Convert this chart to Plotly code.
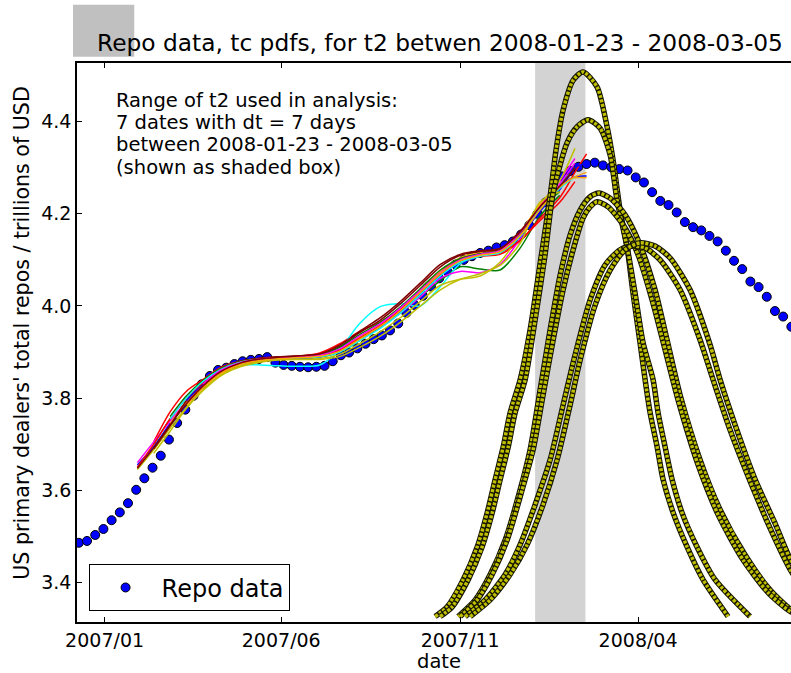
import pandas as pd
import plotly.graph_objects as go

BASE = pd.Timestamp("2007-01-01")

# ---- Repo data (weekly), trillions of USD ----
repo_start = "2006-12-10"
repo_values = [
    3.486, 3.490, 3.503, 3.516, 3.535, 3.552, 3.572, 3.601, 3.626, 3.649,
    3.675, 3.710, 3.746, 3.775, 3.805, 3.830, 3.848, 3.861, 3.866, 3.874,
    3.880, 3.883, 3.885, 3.889, 3.877, 3.872, 3.870, 3.868, 3.867, 3.868,
    3.870, 3.880, 3.893, 3.899, 3.908, 3.918, 3.928, 3.936, 3.947, 3.962,
    3.985, 4.002, 4.022, 4.042, 4.060, 4.075, 4.090, 4.100, 4.108, 4.115,
    4.120, 4.127, 4.132, 4.140, 4.155, 4.175, 4.200, 4.225, 4.255, 4.281,
    4.293, 4.302, 4.308, 4.311, 4.305, 4.301, 4.297, 4.294, 4.279, 4.268,
    4.247, 4.228, 4.219, 4.203, 4.182, 4.171, 4.164, 4.152, 4.140, 4.120,
    4.098, 4.080, 4.053, 4.041, 4.020, 3.989, 3.977, 3.955,
]
repo_dates = pd.date_range(repo_start, periods=len(repo_values), freq="7D")

# ---- Fit curves: values on a common grid (days after 2007-01-01) ----
fit_days = [28, 42, 56, 70, 84, 99, 116, 133, 150, 167, 184, 201, 218,
            236, 253, 270, 287, 304, 321, 338, 355, 372, 389, 402, 412]
N = None
fit_lines = [
    [3.655, 3.695, 3.745, 3.790, 3.828, 3.858, 3.876, 3.884, 3.887, 3.889, 3.892, 3.905, 3.930, 3.958, 3.990, 4.030, 4.070, 4.100, 4.112, 4.118, 4.155, 4.215, 4.260, 4.280, 4.282],
    [N, 3.700, 3.755, 3.800, 3.835, 3.862, 3.878, 3.884, 3.885, 3.886, 3.889, 3.900, 3.925, 3.955, 3.985, 4.020, 4.055, 4.085, 4.080, 4.078, 4.125, 4.195, 4.240, N, N],
    [N, 3.705, 3.770, 3.815, 3.840, 3.866, 3.880, 3.886, 3.888, 3.891, 3.898, 3.918, 3.945, 3.966, 3.995, 4.035, 4.075, 4.100, 4.108, 4.112, 4.140, 4.190, 4.235, 4.290, 4.330],
    [N, N, N, N, N, 3.862, 3.872, 3.872, 3.870, 3.869, 3.872, 3.905, 3.962, 3.999, 4.005, 4.000, 4.042, 4.092, 4.110, 4.115, 4.150, 4.210, 4.262, 4.300, N],
    [3.660, 3.705, 3.750, 3.792, 3.826, 3.856, 3.874, 3.882, 3.886, 3.888, 3.890, 3.902, 3.928, 3.955, 3.985, 4.020, 4.060, 4.075, 4.072, 4.090, 4.145, 4.215, 4.272, 4.320, N],
    [3.645, 3.688, 3.735, 3.780, 3.818, 3.850, 3.870, 3.880, 3.884, 3.885, 3.886, 3.895, 3.918, 3.945, 3.975, 4.010, 4.045, 4.058, 4.065, 4.095, 4.155, 4.220, 4.272, 4.342, N],
    [N, N, 3.745, 3.790, 3.825, 3.855, 3.874, 3.883, 3.887, 3.890, 3.893, 3.905, 3.932, 3.960, 3.995, 4.035, 4.075, 4.105, 4.116, 4.122, 4.160, 4.220, 4.262, 4.278, 4.278],
    [N, 3.690, 3.740, 3.795, 3.832, 3.862, 3.880, 3.887, 3.890, 3.892, 3.895, 3.912, 3.942, 3.970, 4.005, 4.045, 4.085, 4.110, 4.118, 4.123, 4.162, 4.210, 4.255, 4.300, N],
    [N, N, N, 3.795, 3.832, 3.860, 3.877, 3.884, 3.886, 3.888, 3.890, 3.902, 3.928, 3.955, 3.988, 4.028, 4.068, 4.098, 4.110, 4.117, 4.150, 4.205, 4.252, 4.300, 4.310],
    [N, N, 3.760, 3.805, 3.838, 3.864, 3.879, 3.885, 3.887, 3.889, 3.893, 3.910, 3.938, 3.965, 3.998, 4.038, 4.078, 4.103, 4.113, 4.120, 4.155, 4.210, 4.248, N, N],
    [3.650, 3.700, 3.755, 3.800, 3.833, 3.861, 3.878, 3.885, 3.887, 3.889, 3.892, 3.905, 3.930, 3.958, 3.992, 4.030, 4.068, 4.095, 4.108, 4.115, 4.142, 4.185, 4.225, 4.270, N],
    [N, N, 3.755, 3.800, 3.836, 3.862, 3.878, 3.884, 3.886, 3.888, 3.890, 3.900, 3.925, 3.952, 3.985, 4.025, 4.065, 4.095, 4.108, 4.116, 4.150, 4.210, 4.255, 4.280, N],
    [N, N, N, N, 3.830, 3.860, 3.877, 3.885, 3.888, 3.890, 3.893, 3.907, 3.935, 3.962, 3.996, 4.034, 4.072, 4.100, 4.112, 4.120, 4.158, 4.215, 4.265, 4.310, N],
    [N, 3.680, 3.728, 3.778, 3.816, 3.848, 3.868, 3.878, 3.883, 3.884, 3.884, 3.890, 3.910, 3.935, 3.965, 4.000, 4.035, 4.058, 4.070, 4.088, 4.135, 4.225, 4.248, N, N],
    [N, N, N, 3.785, 3.822, 3.853, 3.873, 3.882, 3.886, 3.888, 3.891, 3.902, 3.928, 3.956, 3.990, 4.030, 4.070, 4.098, 4.110, 4.118, 4.152, 4.208, 4.258, 4.280, 4.290],
    [3.648, 3.692, 3.742, 3.788, 3.826, 3.857, 3.876, 3.885, 3.889, 3.892, 3.896, 3.915, 3.945, 3.975, 4.010, 4.050, 4.090, 4.112, 4.120, 4.125, 4.160, 4.215, 4.260, 4.300, N],
]
fit_colors = ["#0000ff", "#008000", "#ff0000", "#00ffff",
              "#ff00ff", "#bfbf00", "#ffa500", "#800000"]

# ---- tc pdf curves (days after 2007-01-01, scaled pdf value) ----
pdf_days = [
    [282.5, 292.8, 306.5, 318.5, 327.0, 333.8, 340.7, 346.6, 355.2, 363.7, 372.3, 380.8, 385.9, 391.9, 400.5, 409.0,
     421.0, 429.5, 434.6, 440.6, 446.6, 451.7, 457.7, 462.0, 466.3, 472.3, 477.4, 486.0, 497.9, 511.5, 532.9],
    [286.8, 297.1, 310.8, 322.7, 331.3, 338.1, 345.0, 350.9, 359.5, 368.0, 376.5, 383.4, 395.3, 403.9, 413.3,
     423.5, 432.1, 438.0, 446.6, 453.4, 460.3, 468.8, 473.1, 479.1, 485.1, 493.6, 506.4, 521.8, 551.7],
    [302.2, 316.8, 329.6, 342.4, 355.2, 363.7, 372.3, 380.8, 389.4, 397.9, 406.5, 415.0, 422.7,
     432.1, 444.9, 457.7, 470.5, 480.8, 491.9, 509.0, 526.1, 547.4, 568.8, 586.7, 594.4],
    [303.9, 318.5, 331.3, 344.1, 356.9, 366.3, 374.8, 383.4, 391.9, 400.5, 409.0, 415.0, 421.0,
     430.4, 443.2, 456.0, 468.0, 479.1, 490.2, 507.3, 524.4, 545.7, 567.1, 586.7, 594.4],
    [308.2, 325.3, 342.4, 355.2, 368.0, 380.8, 391.9, 402.2, 415.0, 427.8, 440.6, 450.9,
     462.0, 474.8, 491.9, 509.0, 520.1, 534.6, 551.7, 568.8, 586.7, 594.4],
    [312.5, 329.6, 346.6, 361.2, 374.8, 386.8, 397.9, 406.5, 419.3, 432.1, 444.9, 457.7,
     470.5, 483.4, 500.4, 517.5, 526.1, 538.9, 556.0, 573.1, 586.7, 594.4],
]
pdf_values = [
    [3.326, 3.347, 3.406, 3.477, 3.551, 3.623, 3.694, 3.768, 3.840, 3.948, 4.093, 4.237, 4.339, 4.425, 4.490, 4.508,
     4.475, 4.389, 4.317, 4.208, 4.128, 4.028, 3.920, 3.840, 3.768, 3.694, 3.623, 3.551, 3.477, 3.406, 3.326],
    [3.326, 3.347, 3.406, 3.477, 3.551, 3.623, 3.694, 3.768, 3.840, 3.970, 4.111, 4.245, 4.354, 4.389, 4.404,
     4.386, 4.328, 4.230, 4.128, 4.028, 3.920, 3.840, 3.768, 3.694, 3.623, 3.551, 3.477, 3.406, 3.326],
    [3.326, 3.362, 3.417, 3.492, 3.601, 3.688, 3.818, 3.948, 4.067, 4.154, 4.208, 4.237, 4.245,
     4.234, 4.198, 4.133, 4.035, 3.926, 3.807, 3.666, 3.558, 3.460, 3.384, 3.341, 3.331],
    [3.326, 3.362, 3.417, 3.492, 3.601, 3.688, 3.807, 3.926, 4.035, 4.122, 4.191, 4.215, 4.226,
     4.215, 4.176, 4.111, 4.013, 3.905, 3.796, 3.655, 3.547, 3.449, 3.378, 3.336, 3.330],
    [3.326, 3.362, 3.417, 3.482, 3.569, 3.666, 3.785, 3.894, 4.013, 4.089, 4.122, 4.130,
     4.126, 4.100, 4.035, 3.926, 3.840, 3.731, 3.620, 3.518, 3.425, 3.398],
    [3.326, 3.362, 3.417, 3.482, 3.569, 3.666, 3.785, 3.883, 4.002, 4.078, 4.122, 4.137,
     4.130, 4.104, 4.035, 3.916, 3.840, 3.742, 3.624, 3.528, 3.448, 3.425],
]

# ---- axes / text ----
x_range = ["2006-12-08 10:00", "2008-08-09 17:00"]
y_range = [3.3141, 4.5273]
x_tickvals = ["2007-01-01", "2007-06-01", "2007-11-01", "2008-04-01"]
x_ticktext = ["2007/01", "2007/06", "2007/11", "2008/04"]
y_tickvals = [3.4, 3.6, 3.8, 4.0, 4.2, 4.4]
t2_box = ["2008-01-04", "2008-02-16"]
title_text = "Repo data, tc pdfs, for t2 betwen 2008-01-23 - 2008-03-05"
info_lines = ["Range of t2 used in analysis:",
              "7 dates with dt = 7 days",
              "between 2008-01-23 - 2008-03-05",
              "(shown as shaded box)"]

FONT = "DejaVu Sans"


def to_dates(days):
    return BASE + pd.to_timedelta(days, unit="D")


fig = go.Figure()

fig.add_trace(go.Scatter(
    x=repo_dates, y=repo_values, mode="markers", name="Repo data",
    marker=dict(color="#0000ff", size=9, line=dict(color="black", width=1)),
))

fit_dates = to_dates(fit_days)
for i, vals in enumerate(fit_lines):
    fig.add_trace(go.Scatter(
        x=fit_dates, y=vals, mode="lines", showlegend=False,
        line=dict(color=fit_colors[i % len(fit_colors)], width=1.5, shape="spline", smoothing=0.8),
        connectgaps=False, hoverinfo="skip",
    ))

for d, v in zip(pdf_days, pdf_values):
    dd = to_dates(d)
    fig.add_trace(go.Scatter(
        x=dd, y=v, mode="lines", showlegend=False, hoverinfo="skip",
        line=dict(color="#141400", width=5.5, shape="spline", smoothing=0.7),
    ))
    fig.add_trace(go.Scatter(
        x=dd, y=v, mode="lines", showlegend=False, hoverinfo="skip",
        line=dict(color="#bfbf00", width=3.5, shape="spline", smoothing=0.7, dash="3px,1.5px"),
    ))

# shaded t2 range
fig.add_shape(type="rect", xref="x", yref="paper", x0=t2_box[0], x1=t2_box[1], y0=0, y1=1,
              fillcolor="#d3d3d3", line=dict(width=0), layer="below")
# grey box at top-left
fig.add_shape(type="rect", xref="paper", yref="paper", x0=-0.0056, x1=0.0802, y0=1.0113, y1=1.1042,
              fillcolor="#c0c0c0", line=dict(width=0), layer="below")

info_y = [0.9338, 0.8933, 0.8534, 0.8128]
for txt, yy in zip(info_lines, info_y):
    fig.add_annotation(text=txt, xref="paper", yref="paper", x=0.0522, y=yy,
                       xanchor="left", yanchor="middle", showarrow=False,
                       font=dict(family=FONT, size=19.5, color="black"))

fig.add_annotation(text="date", xref="paper", yref="paper", x=0.507, y=-0.071,
                   xanchor="center", yanchor="middle", showarrow=False,
                   font=dict(family=FONT, size=19.5, color="black"))
fig.add_annotation(text="US primary dealers' total repos / trillions of USD", xref="paper", yref="paper",
                   x=-0.0766, y=0.518, xanchor="center", yanchor="middle", textangle=-90, showarrow=False,
                   font=dict(family=FONT, size=20.6, color="black"))

fig.update_layout(
    width=791, height=673,
    margin=dict(l=77, r=0, t=63, b=51),
    paper_bgcolor="white", plot_bgcolor="white",
    font=dict(family=FONT, size=19, color="black"),
    title=dict(text=title_text, xref="container", yref="container", x=440 / 791, y=1 - 43 / 673,
               xanchor="center", yanchor="middle", font=dict(family=FONT, size=23.3, color="black")),
    showlegend=True,
    legend=dict(x=0.0162, y=0.019, xanchor="left", yanchor="bottom", bgcolor="white",
                bordercolor="black", borderwidth=1, font=dict(family=FONT, size=24, color="black"),
                itemwidth=62),
    xaxis=dict(type="date", range=x_range, tickvals=x_tickvals, ticktext=x_ticktext,
               showgrid=False, zeroline=False, showline=True, linecolor="black", linewidth=1.5,
               mirror="ticks", ticks="inside", ticklen=5, tickcolor="black",
               tickfont=dict(family=FONT, size=19, color="black")),
    yaxis=dict(range=y_range, tickvals=y_tickvals, tickformat=".1f",
               showgrid=False, zeroline=False, showline=True, linecolor="black", linewidth=1.5,
               mirror=False, ticks="inside", ticklen=5, tickcolor="black",
               tickfont=dict(family=FONT, size=19, color="black")),
)

fig.write_html("out.html", config={"displayModeBar": False},
               post_script="document.body.style.margin='0';document.body.style.overflow='hidden';")
